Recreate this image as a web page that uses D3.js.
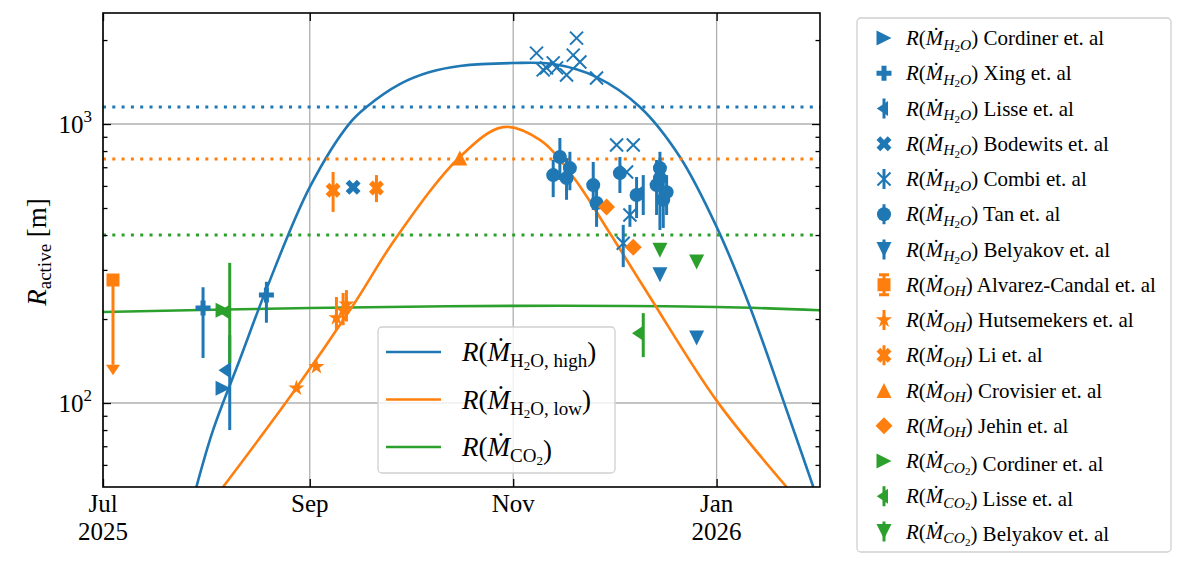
<!DOCTYPE html>
<head>
  <meta charset="utf-8">
  <script src="https://d3js.org/d3.v7.min.js"></script>
  <style>
    body { margin: 0; background: #fff; }
    text { font-family: "Liberation Serif", "DejaVu Serif", serif; fill: #000; }
  </style>
</head>
<body>
<script>
// ---- model curves, [date, R_active in m] ----
var highCurve = [
  ["2025-07-29", 50], ["2025-08-03", 80], ["2025-08-11", 143], ["2025-08-19", 256],
  ["2025-09-01", 594], ["2025-09-13", 1008], ["2025-09-18", 1151], ["2025-09-28", 1390],
  ["2025-10-07", 1535], ["2025-10-16", 1614], ["2025-11-01", 1654], ["2025-11-13", 1640],
  ["2025-11-26", 1473], ["2025-12-09", 1151], ["2025-12-21", 762], ["2026-01-01", 428],
  ["2026-01-11", 221], ["2026-01-21", 102], ["2026-01-30", 50]
];
var lowCurve = [
  ["2025-08-06", 50], ["2025-08-27", 109], ["2025-09-14", 224], ["2025-09-27", 393],
  ["2025-10-16", 762], ["2025-10-29", 975], ["2025-11-09", 877], ["2025-11-19", 646],
  ["2025-11-30", 406], ["2025-12-12", 240], ["2026-01-01", 102], ["2026-01-22", 50]
];
var co2Curve = [
  ["2025-07-01", 212], ["2025-09-01", 219], ["2025-11-01", 223], ["2026-01-01", 221], ["2026-02-01", 215]
];
// dotted reference levels (high, low, CO2)
var levels = [1150, 750, 400];

// ---- observations, [date, value, lower, upper] ----
var cordinerH2O = [["2025-08-06", 113]];
var xingH2O = [["2025-07-31", 219, 145, 260], ["2025-08-19", 244, 194, 272]];
var lisseH2O = [["2025-08-08", 131, 80, 175], ["2025-12-10", 566, 472, 656]];
var bodewitsH2O = [["2025-09-14", 594]];
var combiH2O = [
  ["2025-11-08", 1795], ["2025-11-10", 1563], ["2025-11-11", 1590], ["2025-11-13", 1656],
  ["2025-11-14", 1590], ["2025-11-17", 1499], ["2025-11-19", 1766], ["2025-11-20", 2032],
  ["2025-11-21", 1669], ["2025-11-26", 1462], ["2025-12-02", 841], ["2025-12-07", 841],
  ["2025-12-05", 673], ["2025-12-06", 472, 428, 513], ["2025-12-04", 374, 307, 435]
];
var tanH2O = [
  ["2025-11-13", 656, 547, 743], ["2025-11-15", 762, 630, 891], ["2025-11-17", 640, 535, 755],
  ["2025-11-18", 695, 579, 795], ["2025-11-25", 604, 492, 731], ["2025-11-26", 521, 428, 630],
  ["2025-12-03", 667, 566, 762], ["2025-12-08", 557, 460, 646], ["2025-12-14", 604, 472, 743],
  ["2025-12-15", 695, 579, 795], ["2025-12-15", 640, 417, 755], ["2025-12-16", 535, 424, 640],
  ["2025-12-17", 570, 472, 656]
];
var belyakovH2O = [["2025-12-15", 288], ["2025-12-26", 171]];
var alvarezOH = [["2025-07-04", 276, 137]];
var hutsemekersOH = [
  ["2025-08-28", 113], ["2025-09-03", 135], ["2025-09-09", 202, 183, 240],
  ["2025-09-11", 215, 190, 248], ["2025-09-12", 226, 196, 254]
];
var liOH = [["2025-09-08", 579, 484, 673], ["2025-09-21", 590, 525, 656]];
var crovisierOH = [["2025-10-16", 755]];
var jehinOH = [["2025-11-29", 504], ["2025-12-07", 362]];
var cordinerCO2 = [["2025-08-06", 215]];
var lisseCO2 = [["2025-08-08", 212, 139, 318], ["2025-12-10", 178, 146, 210]];
var belyakovCO2 = [["2025-12-15", 353], ["2025-12-26", 320]];

// ---- tick values ----
var monthTicks = ["2025-07-01", "2025-09-01", "2025-11-01", "2026-01-01"];
var monthLabels = [["Jul", "2025"], ["Sep"], ["Nov"], ["Jan", "2026"]];
var yMajor = [100, 1000];
var yMajorExp = ["2", "3"];
var yMinor = [60, 70, 80, 90, 200, 300, 400, 500, 600, 700, 800, 900, 2000];

var blue = "#1f77b4", orange = "#ff7f0e", green = "#2ca02c";

var series = [
  { name: "Cordiner", sp: "H2O", color: blue, mk: ">", data: cordinerH2O },
  { name: "Xing", sp: "H2O", color: blue, mk: "P", data: xingH2O, err: true },
  { name: "Lisse", sp: "H2O", color: blue, mk: "<|", data: lisseH2O, err: true },
  { name: "Bodewits", sp: "H2O", color: blue, mk: "X", data: bodewitsH2O },
  { name: "Combi", sp: "H2O", color: blue, mk: "x", data: combiH2O, err: true },
  { name: "Tan", sp: "H2O", color: blue, mk: "o", data: tanH2O, err: true },
  { name: "Belyakov", sp: "H2O", color: blue, mk: "v", data: belyakovH2O, err: true },
  { name: "Alvarez-Candal", sp: "OH", color: orange, mk: "s", data: alvarezOH, err: true, uplim: true },
  { name: "Hutsemekers", sp: "OH", color: orange, mk: "*", data: hutsemekersOH, err: true },
  { name: "Li", sp: "OH", color: orange, mk: "X", data: liOH, err: true },
  { name: "Crovisier", sp: "OH", color: orange, mk: "^", data: crovisierOH },
  { name: "Jehin", sp: "OH", color: orange, mk: "D", data: jehinOH },
  { name: "Cordiner", sp: "CO2", color: green, mk: ">", data: cordinerCO2 },
  { name: "Lisse", sp: "CO2", color: green, mk: "<|", data: lisseCO2, err: true },
  { name: "Belyakov", sp: "CO2", color: green, mk: "v", data: belyakovCO2, err: true }
];

var L = 103, R = 820, T = 13, B = 487;
var parse = d3.utcParse("%Y-%m-%d");

var x = d3.scaleUtc()
  .domain([parse("2025-07-01"), parse("2026-02-01")])
  .range([L, R]);
var y = d3.scaleLog()
  .domain([50, 2500])
  .range([B, T]);

var svg = d3.select("body").append("svg")
  .attr("width", 1200)
  .attr("height", 581);

svg.append("defs").append("clipPath").attr("id", "plot")
  .append("rect").attr("x", L).attr("y", T).attr("width", R - L).attr("height", B - T);

// grid
var grid = svg.append("g").attr("stroke", "#b0b0b0").attr("stroke-width", 1.3);
grid.selectAll(".gx").data(monthTicks).enter().append("line")
  .attr("x1", function(d) { return x(parse(d)); })
  .attr("x2", function(d) { return x(parse(d)); })
  .attr("y1", T).attr("y2", B);
grid.selectAll(".gy").data(yMajor).enter().append("line")
  .attr("x1", L).attr("x2", R)
  .attr("y1", function(d) { return y(d); })
  .attr("y2", function(d) { return y(d); });

var plot = svg.append("g").attr("clip-path", "url(#plot)");

var line = d3.line()
  .x(function(d) { return x(parse(d[0])); })
  .y(function(d) { return y(d[1]); })
  .curve(d3.curveCatmullRom.alpha(0.5));

var curves = [[co2Curve, green], [highCurve, blue], [lowCurve, orange]];
curves.forEach(function(c) {
  plot.append("path").datum(c[0])
    .attr("d", line)
    .attr("fill", "none")
    .attr("stroke", c[1])
    .attr("stroke-width", 2.6);
});

plot.selectAll(".level").data(levels).enter().append("line")
  .attr("x1", L).attr("x2", R)
  .attr("y1", function(d) { return y(d); })
  .attr("y2", function(d) { return y(d); })
  .attr("stroke", function(d, i) { return [blue, orange, green][i]; })
  .attr("stroke-width", 3)
  .attr("stroke-dasharray", "3,6.3");

// marker shapes (centered at 0,0)
function markerPath(mk) {
  var s, p;
  switch (mk) {
    case ">": s = 7.5; return "M" + s + ",0L" + (-s) + "," + (-s) + "L" + (-s) + "," + s + "Z";
    case "v": s = 7.5; return "M0," + s + "L" + (-s) + "," + (-s) + "L" + s + "," + (-s) + "Z";
    case "^": s = 7.5; return "M0," + (-s) + "L" + (-s) + "," + s + "L" + s + "," + s + "Z";
    case "<|": s = 7.5; return "M0," + (-s) + "L" + (-1.5 * s) + ",0L0," + s + "Z";
    case "caret": s = 7; return "M" + (-s) + ",0L0," + (1.5 * s) + "L" + s + ",0Z";
    case "s": s = 6.5; return "M" + (-s) + "," + (-s) + "h" + 2 * s + "v" + 2 * s + "h" + (-2 * s) + "Z";
    case "D": s = 8.5; return "M0," + (-s) + "L" + s + ",0L0," + s + "L" + (-s) + ",0Z";
    case "o": s = 7; return d3.symbol(d3.symbolCircle, Math.PI * s * s)();
    case "P":
      s = 7.5 / 3;
      p = [[-1, -3], [1, -3], [1, -1], [3, -1], [3, 1], [1, 1], [1, 3], [-1, 3], [-1, 1], [-3, 1], [-3, -1], [-1, -1]];
      return "M" + p.map(function(v) { return [v[0] * s, v[1] * s]; }).join("L") + "Z";
    case "X":
      s = 7.5 / 2;
      p = [[-1, -2], [0, -1], [1, -2], [2, -1], [1, 0], [2, 1], [1, 2], [0, 1], [-1, 2], [-2, 1], [-1, 0], [-2, -1]];
      return "M" + p.map(function(v) { return [v[0] * s, v[1] * s]; }).join("L") + "Z";
    case "x": s = 6.5; return "M" + (-s) + "," + (-s) + "L" + s + "," + s + "M" + (-s) + "," + s + "L" + s + "," + (-s);
    case "*":
      s = 8.5;
      p = d3.range(10).map(function(i) {
        var r = i % 2 ? s * 0.382 : s, a = i * Math.PI / 5;
        return [r * Math.sin(a), -r * Math.cos(a)];
      });
      return "M" + p.join("L") + "Z";
  }
}

function drawMarker(g, mk, color) {
  var path = g.append("path").attr("d", markerPath(mk));
  if (mk === "x") path.attr("fill", "none").attr("stroke", color).attr("stroke-width", 2);
  else path.attr("fill", color);
}

var pts = svg.append("g");
series.forEach(function(s) {
  var g = pts.append("g");
  if (s.err) {
    s.data.filter(function(d) { return d.length > 2; }).forEach(function(d) {
      var top = s.uplim ? d[1] : d[3];
      g.append("line")
        .attr("x1", x(parse(d[0]))).attr("x2", x(parse(d[0])))
        .attr("y1", y(top)).attr("y2", y(d[2]))
        .attr("stroke", s.color).attr("stroke-width", 3);
      if (s.uplim) {
        var c = g.append("g").attr("transform", "translate(" + x(parse(d[0])) + "," + y(d[2]) + ")");
        drawMarker(c, "caret", s.color);
      }
    });
  }
  s.data.forEach(function(d) {
    var m = g.append("g").attr("transform", "translate(" + x(parse(d[0])) + "," + y(d[1]) + ")");
    drawMarker(m, s.mk, s.color);
  });
});

// axes with inward ticks on all sides
var xTicks = monthTicks.map(parse);
function clean(g) { g.select(".domain").remove(); g.selectAll("text").remove(); g.selectAll("line").attr("stroke", "#000").attr("stroke-width", 1.3); }
svg.append("g").attr("transform", "translate(0," + B + ")")
  .call(d3.axisBottom(x).tickValues(xTicks).tickSize(-8)).call(clean);
svg.append("g").attr("transform", "translate(0," + T + ")")
  .call(d3.axisTop(x).tickValues(xTicks).tickSize(-8)).call(clean);
svg.append("g").attr("transform", "translate(" + L + ",0)")
  .call(d3.axisLeft(y).tickValues(yMajor).tickSize(-8)).call(clean);
svg.append("g").attr("transform", "translate(" + L + ",0)")
  .call(d3.axisLeft(y).tickValues(yMinor).tickSize(-4.5)).call(clean);
svg.append("g").attr("transform", "translate(" + R + ",0)")
  .call(d3.axisRight(y).tickValues(yMajor).tickSize(-8)).call(clean);
svg.append("g").attr("transform", "translate(" + R + ",0)")
  .call(d3.axisRight(y).tickValues(yMinor).tickSize(-4.5)).call(clean);

svg.append("rect")
  .attr("x", L).attr("y", T).attr("width", R - L).attr("height", B - T)
  .attr("fill", "none").attr("stroke", "#000").attr("stroke-width", 1.6);

// tick labels
monthTicks.forEach(function(d, i) {
  var t = svg.append("text")
    .attr("text-anchor", "middle")
    .attr("font-size", 25);
  monthLabels[i].forEach(function(s, j) {
    t.append("tspan").attr("x", x(parse(d))).attr("y", 512 + 28 * j).text(s);
  });
});
yMajor.forEach(function(v, i) {
  var t = svg.append("text")
    .attr("x", 92).attr("y", y(v) + 9)
    .attr("text-anchor", "end")
    .attr("font-size", 25);
  t.append("tspan").text("10");
  t.append("tspan").attr("font-size", 17).attr("dy", -11).text(yMajorExp[i]);
});

// y label
var yl = svg.append("text")
  .attr("transform", "translate(46,252) rotate(-90)")
  .attr("text-anchor", "middle")
  .attr("font-size", 27);
yl.append("tspan").attr("font-style", "italic").text("R");
yl.append("tspan").attr("font-size", 19).attr("dy", 5).text("active");
yl.append("tspan").attr("dy", -5).text(" [m]");

// inner legend for model curves
var lg = svg.append("g");
lg.append("rect")
  .attr("x", 378).attr("y", 327).attr("width", 237).attr("height", 146).attr("rx", 4)
  .attr("fill", "#fff").attr("fill-opacity", 0.8)
  .attr("stroke", "#d0d0d0").attr("stroke-width", 1.3);
var curveSubs = [["H", "2", "O, high"], ["H", "2", "O, low"], ["CO", "2", ""]];
var curveColors = [blue, orange, green];
curveSubs.forEach(function(sub, i) {
  var yy = 352 + i * 47.5;
  lg.append("line").attr("x1", 386).attr("x2", 441).attr("y1", yy).attr("y2", yy)
    .attr("stroke", curveColors[i]).attr("stroke-width", 2.6);
  var t = lg.append("text").attr("x", 462).attr("y", yy + 9).attr("font-size", 27);
  t.append("tspan").attr("font-style", "italic").text("R");
  t.append("tspan").text("(");
  t.append("tspan").attr("font-style", "italic").text("Ṁ");
  t.append("tspan").attr("font-size", 19).attr("dy", 6).text(sub[0]);
  t.append("tspan").attr("font-size", 13).attr("dy", 3).text(sub[1]);
  t.append("tspan").attr("font-size", 19).attr("dy", -3).text(sub[2]);
  t.append("tspan").attr("dy", -6).text(")");
});

// outer legend for observations
var og = svg.append("g");
og.append("rect")
  .attr("x", 857).attr("y", 18).attr("width", 314).attr("height", 534).attr("rx", 4)
  .attr("fill", "#fff").attr("stroke", "#d0d0d0").attr("stroke-width", 1.3);
var spParts = { H2O: ["H", "2", "O"], OH: ["OH", "", ""], CO2: ["CO", "2", ""] };
series.forEach(function(s, i) {
  var yy = 38 + i * 35.25;
  var m = og.append("g").attr("transform", "translate(884," + yy + ")");
  if (s.err && s.mk !== "P") {
    m.append("line").attr("y1", -10).attr("y2", 10).attr("stroke", s.color).attr("stroke-width", 3);
  }
  if (s.uplim) {
    m.append("line").attr("x1", -5).attr("x2", 5).attr("y1", -10).attr("y2", -10).attr("stroke", s.color).attr("stroke-width", 3);
    m.append("line").attr("x1", -5).attr("x2", 5).attr("y1", 10).attr("y2", 10).attr("stroke", s.color).attr("stroke-width", 3);
  }
  var mg = m.append("g").attr("transform", s.mk === "<|" ? "translate(4,0)" : null);
  drawMarker(mg, s.mk, s.color);
  var p = spParts[s.sp];
  var t = og.append("text").attr("x", 906).attr("y", yy + 7).attr("font-size", 21);
  t.append("tspan").attr("font-style", "italic").text("R");
  t.append("tspan").text("(");
  t.append("tspan").attr("font-style", "italic").text("Ṁ");
  t.append("tspan").attr("font-style", "italic").attr("font-size", 15.5).attr("dy", 4.5).text(p[0]);
  t.append("tspan").attr("font-size", 11).attr("dy", 2.5).text(p[1]);
  t.append("tspan").attr("font-style", "italic").attr("font-size", 15.5).attr("dy", -2.5).text(p[2]);
  t.append("tspan").attr("dy", -4.5).text(") " + s.name + " et. al");
});
</script>
</body>
